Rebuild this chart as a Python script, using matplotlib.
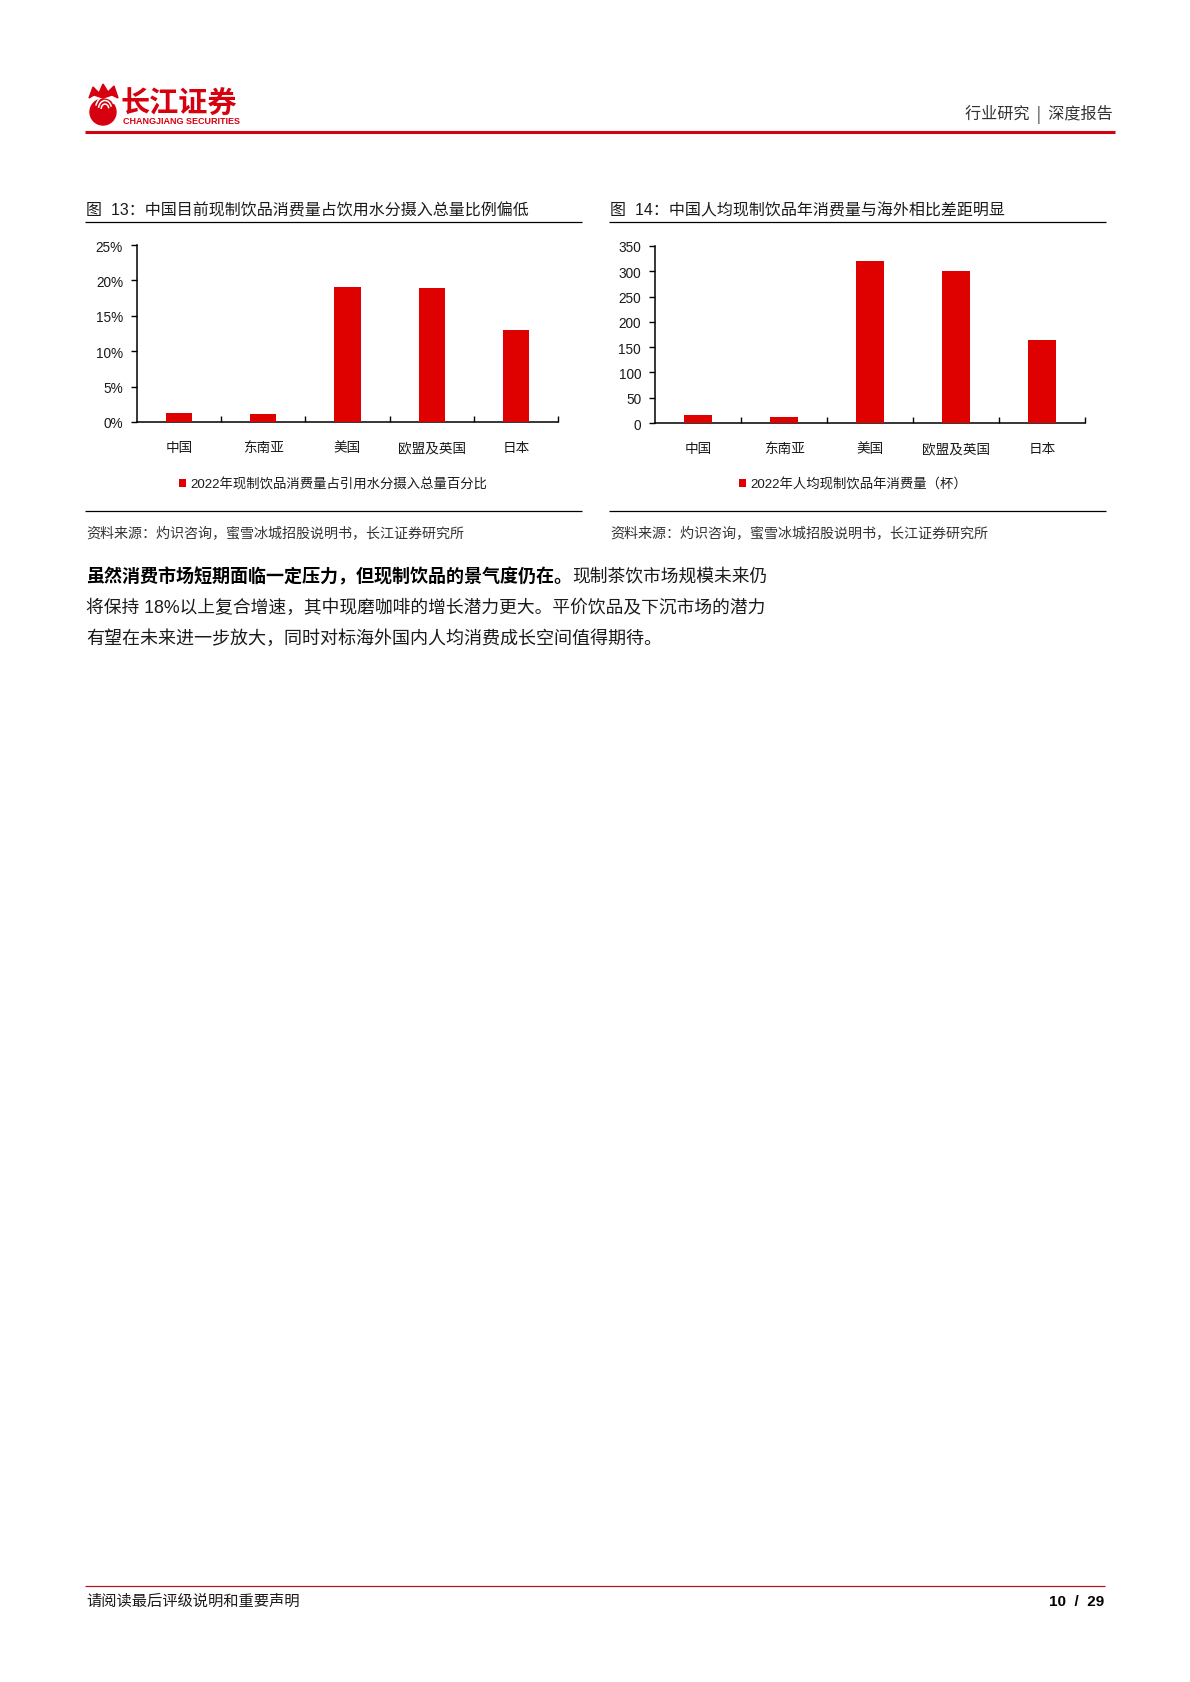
import matplotlib
matplotlib.use('Agg')
import matplotlib.pyplot as plt
from matplotlib.patches import Circle, Arc, Patch, Polygon
from matplotlib.lines import Line2D
import numpy as np

plt.rcParams['font.family'] = ['Liberation Sans', 'Noto Sans CJK SC', 'DejaVu Sans']

# ---------------- data ----------------
categories = ['中国', '东南亚', '美国', '欧盟及英国', '日本']
share_pct = [1.3, 1.1, 19.1, 18.9, 13.0]          # % of total water intake
cups_per_capita = [15, 12, 320, 300, 165]          # cups per person per year
share_ticks = [0, 5, 10, 15, 20, 25]
cups_ticks = [0, 50, 100, 150, 200, 250, 300, 350]
share_tick_labels = ['0%', '5%', '10%', '15%', '20%', '25%']
cups_tick_labels = ['0', '50', '100', '150', '200', '250', '300', '350']

title1 = '图  13：中国目前现制饮品消费量占饮用水分摄入总量比例偏低'
title2 = '图  14：中国人均现制饮品年消费量与海外相比差距明显'
legend1 = '2022年现制饮品消费量占引用水分摄入总量百分比'
legend2 = '2022年人均现制饮品年消费量（杯）'
source = '资料来源：灼识咨询，蜜雪冰城招股说明书，长江证券研究所'

RED = '#DF0000'
LOGO_RED = '#D7000F'
TXT = '#1a1a1a'

W, H = 1190, 1683
fig = plt.figure(figsize=(W / 100, H / 100), dpi=100)
bg = fig.add_axes([0, 0, 1, 1], zorder=0)
bg.set_xlim(0, W)
bg.set_ylim(H, 0)
bg.axis('off')


def rect(l, t, r, b):
    return [l / W, 1 - b / H, (r - l) / W, (b - t) / H]


def hline(x0, x1, y, color='black', lw=0.8):
    bg.add_line(Line2D([x0, x1], [y, y], color=color, lw=lw, solid_capstyle='butt'))


# ---------------- header ----------------
# simplified emblem
bg.add_patch(Circle((103, 113), 13, color=LOGO_RED))
for r_, t1, t2 in [(9.5, 200, 330), (6.5, 190, 340), (3.8, 180, 350)]:
    bg.add_patch(Arc((105, 110), 2 * r_, 2.6 * r_, theta1=t1, theta2=t2, color='white', lw=1.1))
bg.add_patch(Polygon([[89, 99], [93, 88], [99, 94], [103, 85], [108, 93], [114, 87],
                      [118, 99], [112, 96], [103, 99], [94, 96]], closed=True, color=LOGO_RED))
bg.text(121, 104, '长江证券', fontsize=21, fontweight='bold', color=LOGO_RED,
        va='center', ha='left', family=['Noto Sans CJK SC', 'DejaVu Sans'])
bg.text(123, 121, 'CHANGJIANG SECURITIES', fontsize=6.5, fontweight='bold',
        color=LOGO_RED, va='center', ha='left')
bg.text(1113, 115, '行业研究  |  深度报告', fontsize=11.6, color='#333333', va='center', ha='right',
        family=['Noto Sans CJK SC', 'DejaVu Sans'])
hline(85, 1115, 133, color=LOGO_RED, lw=2.2)

# ---------------- chart frames ----------------
for x0, x1, title in [(85, 582, title1), (609, 1106, title2)]:
    bg.text(x0 + 1, 211, title, fontsize=11.5, color=TXT, va='center', ha='left')
    hline(x0, x1, 223, lw=0.9)
    hline(x0, x1, 512, lw=0.9)
    bg.text(x0 + 1, 533, source, fontsize=10.1, color='#333333', va='center', ha='left')


def style(ax, ticks, labels):
    x = np.arange(len(categories))
    ax.set_xlim(-0.5, len(categories) - 0.5)
    ax.set_ylim(ticks[0], ticks[-1])
    for s in ['top', 'right']:
        ax.spines[s].set_visible(False)
    for s in ['left', 'bottom']:
        ax.spines[s].set_linewidth(1.1)
        ax.spines[s].set_color('black')
    ax.set_xticks(x)
    ax.set_xticklabels(categories, fontsize=9.8, color=TXT)
    ax.tick_params(axis='x', which='major', length=0, pad=13)
    ax.set_xticks(np.arange(0.5, len(categories), 1), minor=True)
    ax.tick_params(axis='x', which='minor', length=4, width=1, direction='in')
    ax.set_yticks(ticks)
    ax.set_yticklabels(labels, fontsize=9.8, color=TXT)
    ax.tick_params(axis='y', length=4, width=1, direction='out', pad=6)
    ax.patch.set_alpha(0)


ax1 = fig.add_axes(rect(137, 246, 558, 423), zorder=2)
ax1.bar(categories, share_pct, width=0.31, color=RED, zorder=3)
style(ax1, share_ticks, share_tick_labels)

ax2 = fig.add_axes(rect(655, 247, 1085, 424), zorder=2)
ax2.bar(categories, cups_per_capita, width=0.33, color=RED, zorder=3)
style(ax2, cups_ticks, cups_tick_labels)

for cx, lab in [(333, legend1), (853, legend2)]:
    fig.legend([Patch(facecolor=RED, edgecolor='none')], [lab], loc='center',
               bbox_to_anchor=(cx / W, 1 - 485 / H), bbox_transform=fig.transFigure,
               frameon=False, fontsize=9.6, handlelength=0.55, handleheight=0.55,
               handletextpad=0.35, borderpad=0, labelcolor=TXT)

# ---------------- body text ----------------
renderer = fig.canvas.get_renderer()
bold_part = '虽然消费市场短期面临一定压力，但现制饮品的景气度仍在。'
t = bg.text(86, 577, bold_part, fontsize=13, fontweight='bold', color='black',
            va='center', ha='left')
bb = t.get_window_extent(renderer=renderer)
bg.text(86 + bb.width, 577, '现制茶饮市场规模未来仍', fontsize=12.8, color=TXT,
        va='center', ha='left')
bg.text(86, 608, '将保持 18%以上复合增速，其中现磨咖啡的增长潜力更大。平价饮品及下沉市场的潜力',
        fontsize=12.75, color=TXT, va='center', ha='left')
bg.text(86, 639, '有望在未来进一步放大，同时对标海外国内人均消费成长空间值得期待。',
        fontsize=13, color=TXT, va='center', ha='left')

# ---------------- footer ----------------
hline(85, 1105, 1587, color='#B0161E', lw=0.9)
bg.text(86, 1602, '请阅读最后评级说明和重要声明', fontsize=11, color=TXT, va='center', ha='left')
bg.text(1104, 1602, '10  /  29', fontsize=11, fontweight='bold', color='black',
        va='center', ha='right')

fig.savefig('out.png', dpi=100)
